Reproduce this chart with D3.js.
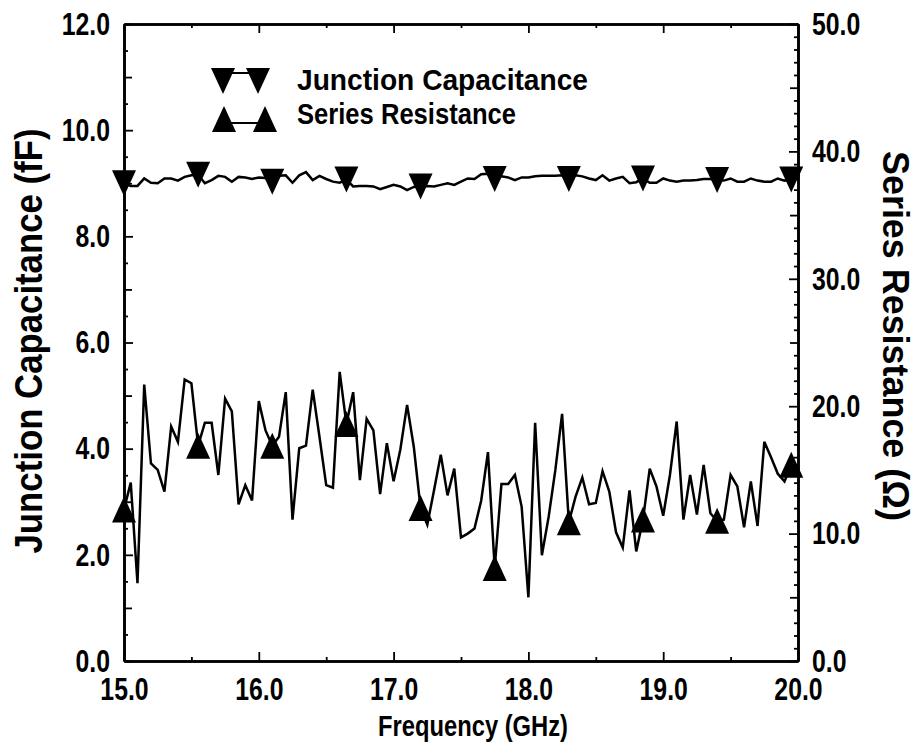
<!DOCTYPE html>
<html><head><meta charset="utf-8">
<script src="https://cdn.jsdelivr.net/npm/d3@7"></script>
<style>
html,body{margin:0;padding:0;background:#fff;}
svg{display:block;font-family:"Liberation Sans",Arial,sans-serif;font-weight:bold;}
</style></head>
<body>
<svg id="chart" width="917" height="747"></svg>
<script>
// ---------- data ----------
const frequency = [15.00,15.05,15.10,15.15,15.20,15.25,15.30,15.35,15.40,15.45,
15.50,15.55,15.60,15.65,15.70,15.75,15.80,15.85,15.90,15.95,
16.00,16.05,16.10,16.15,16.20,16.25,16.30,16.35,16.40,16.45,
16.50,16.55,16.60,16.65,16.70,16.75,16.80,16.85,16.90,16.95,
17.00,17.05,17.10,17.15,17.20,17.25,17.30,17.35,17.40,17.45,
17.50,17.55,17.60,17.65,17.70,17.75,17.80,17.85,17.90,17.95,
18.00,18.05,18.10,18.15,18.20,18.25,18.30,18.35,18.40,18.45,
18.50,18.55,18.60,18.65,18.70,18.75,18.80,18.85,18.90,18.95,
19.00,19.05,19.10,19.15,19.20,19.25,19.30,19.35,19.40,19.45,
19.50,19.55,19.60,19.65,19.70,19.75,19.80,19.85,19.90,19.95,20.00];

const junctionCapacitance = [9.00,8.95,8.95,9.09,9.01,9.00,9.09,9.09,9.05,9.12,
9.15,9.16,9.00,9.06,9.14,9.12,9.03,9.12,9.11,9.08,
9.11,9.10,9.03,9.14,9.15,9.01,9.15,9.21,9.06,9.14,
9.08,9.03,9.01,9.07,8.94,8.95,8.95,8.94,8.89,8.93,
8.97,8.94,8.87,8.93,8.94,8.95,8.94,8.97,9.00,8.97,
9.03,9.09,9.08,9.17,9.18,9.08,9.13,9.11,9.06,9.11,
9.11,9.13,9.14,9.14,9.14,9.15,9.08,9.15,9.13,9.09,
9.06,9.15,9.05,9.09,9.12,9.00,9.02,9.09,9.01,9.01,
9.09,9.05,9.03,9.05,9.05,9.06,9.08,9.08,9.06,9.05,
9.09,9.03,9.03,9.09,9.05,9.03,9.03,9.09,9.05,9.07,9.09];

const seriesResistance = [11.9,14.0,6.1,21.7,15.5,15.0,13.3,18.4,17.2,22.1,
21.8,16.9,18.7,18.7,14.6,20.6,19.6,12.3,13.8,12.6,
20.4,18.1,16.9,17.6,21.1,11.1,16.7,16.9,21.3,17.6,
13.8,13.6,22.7,18.6,21.1,14.2,19.0,18.1,13.1,17.1,
14.1,16.6,20.1,16.8,12.0,10.7,13.4,16.2,13.0,15.1,
9.7,10.0,10.4,12.6,16.4,7.3,13.9,13.9,14.6,12.1,
5.0,18.7,8.3,11.3,15.0,19.4,10.9,12.9,14.4,12.3,
12.4,14.9,13.3,10.1,8.9,13.4,8.6,11.1,15.1,13.7,
11.4,14.6,18.8,11.1,14.6,11.5,15.4,11.6,11.0,11.1,
14.6,13.7,10.5,14.1,10.6,17.2,16.0,14.7,14.1,15.4,15.0];

const markerFrequencies = [15.00,15.55,16.10,16.65,17.20,17.75,18.30,18.85,19.40,19.95];

const xTickLabels = [15,16,17,18,19,20];
const leftTickLabels = [0,2,4,6,8,10,12];
const rightTickLabels = [0,10,20,30,40,50];
const legendLabels = ["Junction Capacitance","Series Resistance"];

// ---------- layout ----------
const svg = d3.select("#chart");
const L = 124, R = 798, T = 24, B = 661;
const x = d3.scaleLinear().domain([15,20]).range([L,R]);
const yL = d3.scaleLinear().domain([0,12]).range([B,T]);
const yR = d3.scaleLinear().domain([0,50]).range([B,T]);

function squeeze(sel, factor){
  sel.each(function(){
    const w = this.getComputedTextLength();
    d3.select(this).attr("textLength", w*factor).attr("lengthAdjust","spacingAndGlyphs");
  });
}
function styleAxis(g){
  g.select(".domain").attr("stroke","#000").attr("stroke-width",2.3);
  g.selectAll(".tick line").attr("stroke","#000").attr("stroke-width",1.8);
}
const range = (a,b,s)=>{const o=[];for(let v=a;v<=b+1e-9;v+=s)o.push(+v.toFixed(3));return o;};

// minor ticks
const gMinor = svg.append("g");
gMinor.append("g").attr("transform",`translate(0,${B})`)
  .call(d3.axisBottom(x).tickValues(range(15.5,19.5,1)).tickSize(-4).tickSizeOuter(0).tickFormat(""))
  .call(styleAxis);
gMinor.append("g").attr("transform",`translate(0,${T})`)
  .call(d3.axisTop(x).tickValues(range(15.5,19.5,1)).tickSize(-4).tickSizeOuter(0).tickFormat(""))
  .call(styleAxis);
gMinor.append("g").attr("transform",`translate(${L},0)`)
  .call(d3.axisLeft(yL).tickValues(range(0.5,11.5,1)).tickSize(-4).tickSizeOuter(0).tickFormat(""))
  .call(styleAxis);
gMinor.append("g").attr("transform",`translate(${L},0)`)
  .call(d3.axisLeft(yL).tickValues(range(1,11,2)).tickSize(-8).tickSizeOuter(0).tickFormat(""))
  .call(styleAxis);
gMinor.append("g").attr("transform",`translate(${R},0)`)
  .call(d3.axisRight(yR).tickValues(range(1,49,1).filter(v=>v%5!==0)).tickSize(-4).tickSizeOuter(0).tickFormat(""))
  .call(styleAxis);
gMinor.append("g").attr("transform",`translate(${R},0)`)
  .call(d3.axisRight(yR).tickValues(range(5,45,10)).tickSize(-8).tickSizeOuter(0).tickFormat(""))
  .call(styleAxis);

// major axes
const fmt = d3.format(".1f");
const gx = svg.append("g").attr("transform",`translate(0,${B})`)
  .call(d3.axisBottom(x).tickValues(xTickLabels).tickSize(-9).tickSizeOuter(0).tickFormat(fmt))
  .call(styleAxis);
gx.selectAll(".tick text").attr("y",39).attr("dy",null).attr("font-size",31).attr("fill","#000")
  .attr("font-family","Liberation Sans, Arial, sans-serif").attr("font-weight","bold");
svg.append("g").attr("transform",`translate(0,${T})`)
  .call(d3.axisTop(x).tickValues(xTickLabels).tickSize(-9).tickSizeOuter(0).tickFormat(""))
  .call(styleAxis);
const gyl = svg.append("g").attr("transform",`translate(${L},0)`)
  .call(d3.axisLeft(yL).tickValues(leftTickLabels).tickSize(-9).tickSizeOuter(0).tickFormat(fmt))
  .call(styleAxis);
gyl.selectAll(".tick text").attr("x",-14).attr("dy","0.33em").attr("font-size",31).attr("fill","#000")
  .attr("font-family","Liberation Sans, Arial, sans-serif").attr("font-weight","bold");
const gyr = svg.append("g").attr("transform",`translate(${R},0)`)
  .call(d3.axisRight(yR).tickValues(rightTickLabels).tickSize(-9).tickSizeOuter(0).tickFormat(fmt))
  .call(styleAxis);
gyr.selectAll(".tick text").attr("x",14).attr("dy","0.33em").attr("font-size",31).attr("fill","#000")
  .attr("font-family","Liberation Sans, Arial, sans-serif").attr("font-weight","bold");
squeeze(svg.selectAll(".tick text"), 0.8);

// ---------- series ----------
const capData = frequency.map((f,i)=>({f, v: junctionCapacitance[i]}));
const resData = frequency.map((f,i)=>({f, v: seriesResistance[i]}));

svg.append("path").datum(capData)
  .attr("fill","none").attr("stroke","#000").attr("stroke-width",2.5).attr("stroke-linejoin","miter")
  .attr("d", d3.line().x(d=>x(d.f)).y(d=>yL(d.v)));
svg.append("path").datum(resData)
  .attr("fill","none").attr("stroke","#000").attr("stroke-width",2.5).attr("stroke-linejoin","miter")
  .attr("d", d3.line().x(d=>x(d.f)).y(d=>yR(d.v)));

const TW = 24, TH = 26;
const downTri = `M${-TW/2},${-TH/2}L${TW/2},${-TH/2}L0,${TH/2}Z`;
const upTri = `M0,${-TH/2}L${TW/2},${TH/2}L${-TW/2},${TH/2}Z`;
const isMarker = d => markerFrequencies.some(m => Math.abs(m - d.f) < 1e-6);

svg.append("g").selectAll("path").data(capData.filter(isMarker)).join("path")
  .attr("d", downTri).attr("fill","#000")
  .attr("transform", d=>`translate(${x(d.f)},${yL(d.v)})`);
svg.append("g").selectAll("path").data(resData.filter(isMarker)).join("path")
  .attr("d", upTri).attr("fill","#000")
  .attr("transform", d=>`translate(${x(d.f)},${yR(d.v)})`);

// ---------- legend ----------
const lg = svg.append("g");
lg.append("line").attr("x1",223).attr("x2",258).attr("y1",73).attr("y2",73).attr("stroke","#000").attr("stroke-width",1.8);
lg.append("path").attr("d",downTri).attr("fill","#000").attr("transform","translate(223,81)");
lg.append("path").attr("d",downTri).attr("fill","#000").attr("transform","translate(258,81)");
lg.append("line").attr("x1",224).attr("x2",265).attr("y1",123).attr("y2",123).attr("stroke","#000").attr("stroke-width",1.8);
lg.append("path").attr("d",upTri).attr("fill","#000").attr("transform","translate(224,119)");
lg.append("path").attr("d",upTri).attr("fill","#000").attr("transform","translate(265,119)");
lg.append("text").attr("x",297).attr("y",90).attr("font-size",30).text(legendLabels[0])
  .attr("textLength",291).attr("lengthAdjust","spacingAndGlyphs");
lg.append("text").attr("x",297).attr("y",124).attr("font-size",30).text(legendLabels[1])
  .attr("textLength",219).attr("lengthAdjust","spacingAndGlyphs");

// ---------- axis titles ----------
svg.append("text").attr("x",473).attr("y",736).attr("text-anchor","middle").attr("font-size",29)
  .text("Frequency (GHz)").attr("textLength",190).attr("lengthAdjust","spacingAndGlyphs");
svg.append("text").attr("transform","translate(42,341) rotate(-90)").attr("text-anchor","middle").attr("font-size",38)
  .text("Junction Capacitance (fF)").attr("textLength",425).attr("lengthAdjust","spacingAndGlyphs");
svg.append("text").attr("transform","translate(883,336) rotate(90)").attr("text-anchor","middle").attr("font-size",36)
  .text("Series Resistance (Ω)").attr("textLength",370).attr("lengthAdjust","spacingAndGlyphs");
</script>
</body></html>
